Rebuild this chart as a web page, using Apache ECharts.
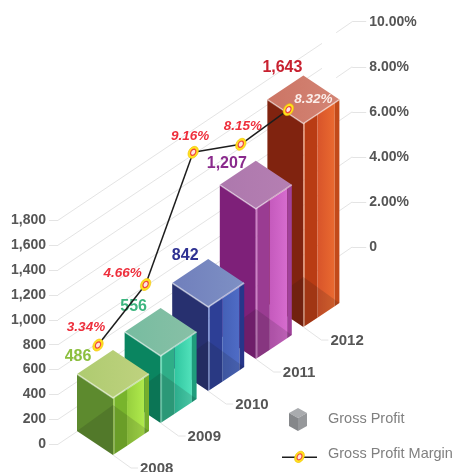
<!DOCTYPE html>
<html><head><meta charset="utf-8">
<style>html,body{margin:0;padding:0;background:#fff}#c{width:453px;height:472px}</style>
<script src="https://cdn.jsdelivr.net/npm/echarts@6/dist/echarts.min.js"></script>
</head><body><div id="c"></div>
<script>
const categories = ['2008','2009','2010','2011','2012'];
const grossProfitLabels = ['486','556','842','1,207','1,643'];
const grossProfitHeights = [458, 539, 675, 1207, 1635];
const grossProfitMargin = [3.34, 4.66, 9.16, 8.15, 8.32];
const leftTicks = [0,200,400,600,800,1000,1200,1400,1600,1800];
const rightTicks = [0,2,4,6,8,10];
const barColors = [
 {top:['#aecb70','#bfd27f'],left:'#5d8a2e',mid:'#78b42c',glow:['#96cf3e','#b0ea4c'],edge:'#76ae2c',hi:'#a5d15e',text:'#8cbf3f'},
 {top:['#77bca0','#88c0a6'],left:'#0a8560',mid:'#2fae88',glow:['#30c6a0','#52e2bb'],edge:'#1f9d7c',hi:'#6fdcb9',text:'#3db57f'},
 {top:['#707fbc','#7e90c4'],left:'#27306f',mid:'#2d3f96',glow:['#4460b6','#4f6cc6'],edge:'#27368a',hi:'#6f84cf',text:'#2e3192'},
 {top:['#ad78ad','#b57fb2'],left:'#7e2079',mid:'#9a3c92',glow:['#c55abd','#d66cce'],edge:'#a0409a',hi:'#cf7fc8',text:'#8a2a8c'},
 {top:['#cc7565','#d38474'],left:'#80230f',mid:'#b93c14',glow:['#d8542a','#ea6a30'],edge:'#c24a1a',hi:'#e28a68',text:'#c8202f'}
];
const valueNudge = [[-35,-41],[-27,-49],[-23,-51],[-29,-45],[-21,-56]];
const pctNudge = [[-12,-18],[-23,-11],[-3,-16],[2,-18],[25,-10]];
const FONT = '"Liberation Sans",Arial,sans-serif';
const HW = 36, HD = 24, SK = 0.672, GRID_L = 89.2, GRID_W = 238;
const GRID_LINE = '#e4e4e4';

function poly(points, fill, extra){
  return Object.assign({type:'polygon',shape:{points},style:{fill}},extra||{});
}
function hgrad(c0,c1){return {type:'linear',x:0,y:0,x2:1,y2:0,colorStops:[{offset:0,color:c0},{offset:1,color:c1}]};}
function baseY(api,x){ return api.coord([0,0])[1] + 10.7 - SK*(x-113); }

function renderBar(params, api){
  const i = api.value(0), c = barColors[i];
  const x = api.coord([i,0])[0], yb = baseY(api,x);
  const h = api.coord([i,0])[1] - api.coord([i,api.value(1)])[1];
  const yt = yb - h;
  const band = (f1,f2,fill)=>poly([
    [x+f1*HW,yt-f1*HD],[x+f2*HW,yt-f2*HD],[x+f2*HW,yb-f2*HD],[x+f1*HW,yb-f1*HD]],fill);
  const kids = [
    poly([[x-HW,yt-HD],[x,yt],[x,yb],[x-HW,yb-HD]],c.left),
    band(0,0.04,c.hi), band(0.04,0.39,c.mid), band(0.39,0.87,hgrad(c.glow[0],c.glow[1])), band(0.87,1,c.edge),
    poly([[x-HW,yb-HD],[x,yb-50],[x,yb]],'rgba(20,20,20,0.14)'),
    poly([[x,yb-50],[x+HW,yb-HD],[x,yb]],'rgba(20,20,20,0.14)'),
    poly([[x-HW,yt-HD],[x,yt-2*HD],[x+HW,yt-HD],[x,yt]],hgrad(c.top[0],c.top[1])),
    {type:'polyline',shape:{points:[[x-HW,yt-HD],[x,yt],[x+HW,yt-HD]]},style:{fill:null,stroke:'rgba(255,255,255,0.5)',lineWidth:1.6}},
    {type:'polyline',shape:{points:[[x,yb],[x+18,yb+13],[x+25,yb+13]]},style:{fill:null,stroke:GRID_LINE,lineWidth:1}},
    {type:'text',x:x+27,y:yb+14,style:{text:categories[i],fill:'#555',font:'bold 15px '+FONT,verticalAlign:'middle',align:'left'}}
  ];
  return {type:'group',children:kids};
}
function renderValueLabel(params, api){
  const i = api.value(0), c = barColors[i];
  const x = api.coord([i,0])[0], yb = baseY(api,x);
  const yt = yb - (api.coord([i,0])[1] - api.coord([i,api.value(1)])[1]);
  return {type:'text',x:x+valueNudge[i][0],y:yt+valueNudge[i][1],
    style:{text:grossProfitLabels[i],fill:c.text,font:'bold 16px '+FONT,align:'center',verticalAlign:'middle'}};
}
function renderLeftGrid(params, api){
  const y = api.coord([0,api.value(0)])[1], x0 = params.coordSys.x - 31.2, x1 = 322;
  return {type:'line',shape:{x1:x0,y1:y,x2:x1,y2:y-0.67*(x1-x0)},style:{stroke:GRID_LINE,lineWidth:1}};
}
function renderRightGrid(params, api){
  const y = api.coord([0,api.value(0)])[1], x1 = params.coordSys.x + params.coordSys.width + 25;
  return {type:'line',shape:{x1:x1,y1:y,x2:x1-16,y2:y+11},style:{stroke:GRID_LINE,lineWidth:1}};
}
function marginPoint(api,i){
  const p = api.coord([i,grossProfitMargin[i]]);
  return [p[0]-15, p[1]+173.3-30.8*i];
}
function marker(x,y,r){
  return {type:'group',x:x,y:y,rotation:-0.55,children:[
    {type:'ellipse',shape:{cx:0,cy:0,rx:4.6*r,ry:6.4*r},style:{fill:'#ffe21f',stroke:'#f2c200',lineWidth:0.6}},
    {type:'ellipse',shape:{cx:0,cy:0,rx:2.9*r,ry:4.0*r},style:{fill:'#f0493c'}},
    {type:'ellipse',shape:{cx:0,cy:0,rx:1.8*r,ry:2.6*r},style:{fill:'#fde4e4'}}
  ]};
}
function renderMargin(params, api){
  const i = api.value(0), p = marginPoint(api,i), kids = [];
  if(i < categories.length-1){
    const n = marginPoint(api,i+1);
    kids.push({type:'line',z2:1,shape:{x1:p[0],y1:p[1],x2:n[0],y2:n[1]},style:{stroke:'#1d1d1d',lineWidth:1.5}});
  }
  return {type:'group',children:kids};
}
function renderMarginMark(params, api){
  const i = api.value(0), p = marginPoint(api,i);
  return {type:'group',children:[
    marker(p[0],p[1],1),
    {type:'text',x:p[0]+pctNudge[i][0],y:p[1]+pctNudge[i][1],
     style:{text:grossProfitMargin[i].toFixed(2)+'%',fill:i===4?'#fbeeea':'#ee2f3c',font:'italic bold 13.5px '+FONT,align:'center',verticalAlign:'middle'}}
  ]};
}

const chart = echarts.init(document.getElementById('c'),null,{renderer:'canvas'});
const axisLabelBase = {color:'#555',fontFamily:'"Liberation Sans",Arial,sans-serif',fontWeight:'bold',fontSize:14};
chart.setOption({
  animation:false,
  backgroundColor:'#fff',
  legend:{
    orient:'vertical',left:312,top:406,itemWidth:6,itemHeight:6,itemGap:20,
    textStyle:{color:'#808080',fontFamily:FONT,fontSize:14.5},selectedMode:false,
    data:[
      {name:'Gross Profit',icon:'rect',itemStyle:{opacity:0}},
      {name:'Gross Profit Margin',icon:'rect',itemStyle:{opacity:0}}
    ]
  },
  grid:[
    {left:GRID_L,width:GRID_W,top:220.3,height:224},
    {left:GRID_L,width:GRID_W,top:21.7,height:225.3}
  ],
  xAxis:[
    {type:'category',gridIndex:0,data:categories,show:false},
    {type:'category',gridIndex:1,data:categories,show:false}
  ],
  yAxis:[
    {type:'value',gridIndex:0,min:0,max:1800,interval:200,offset:31.2,
     axisLine:{show:false},splitLine:{show:false},
     axisTick:{show:true,length:9,lineStyle:{color:GRID_LINE}},
     axisLabel:Object.assign({margin:12,padding:[0,0,3,0],formatter:v=>v.toLocaleString('en-US')},axisLabelBase)},
    {type:'value',gridIndex:1,position:'right',min:0,max:10,interval:2,offset:25,
     axisLine:{show:false},splitLine:{show:false},
     axisTick:{show:true,length:14,lineStyle:{color:GRID_LINE}},
     axisLabel:Object.assign({margin:17,formatter:v=>v===0?'0':v.toFixed(2)+'%'},axisLabelBase)}
  ],
  graphic:[
    {type:'group',left:289,top:408,silent:true,children:[
      {type:'polygon',shape:{points:[[0,5],[9,0],[18,5],[9,10]]},style:{fill:'#a9abae'}},
      {type:'polygon',shape:{points:[[0,5],[9,10],[9,23],[0,18]]},style:{fill:'#85878a'}},
      {type:'polygon',shape:{points:[[9,10],[18,5],[18,18],[9,23]]},style:{fill:'#96989b'}}
    ]},
    {type:'group',left:282,top:449,silent:true,children:[
      {type:'rect',shape:{x:0,y:6,width:35,height:1.6},style:{fill:'#1d1d1d'}},
      marker(17.5,6.5,0.95)
    ]}
  ],
  series:[
    {name:'grid-left',type:'custom',xAxisIndex:0,yAxisIndex:0,z:1,silent:true,clip:false,
     encode:{y:0},data:leftTicks.map(v=>[v]),renderItem:renderLeftGrid},
    {name:'grid-right',type:'custom',xAxisIndex:1,yAxisIndex:1,z:1,silent:true,clip:false,
     encode:{y:0},data:rightTicks.map(v=>[v]),renderItem:renderRightGrid},
    {name:'Gross Profit',type:'custom',xAxisIndex:0,yAxisIndex:0,z:3,clip:false,encode:{x:0,y:1},
     data:grossProfitHeights.map((v,i)=>[i,v]).reverse(),renderItem:renderBar},
    {name:'value-labels',type:'custom',xAxisIndex:0,yAxisIndex:0,z:4,clip:false,encode:{x:0,y:1},
     data:grossProfitHeights.map((v,i)=>[i,v]),renderItem:renderValueLabel},
    {name:'Gross Profit Margin',type:'custom',xAxisIndex:1,yAxisIndex:1,z:5,clip:false,encode:{x:0,y:1},
     data:grossProfitMargin.map((v,i)=>[i,v]),renderItem:renderMargin},
    {name:'margin-marks',type:'custom',xAxisIndex:1,yAxisIndex:1,z:6,clip:false,encode:{x:0,y:1},
     data:grossProfitMargin.map((v,i)=>[i,v]),renderItem:renderMarginMark}
  ]
});
</script></body></html>
